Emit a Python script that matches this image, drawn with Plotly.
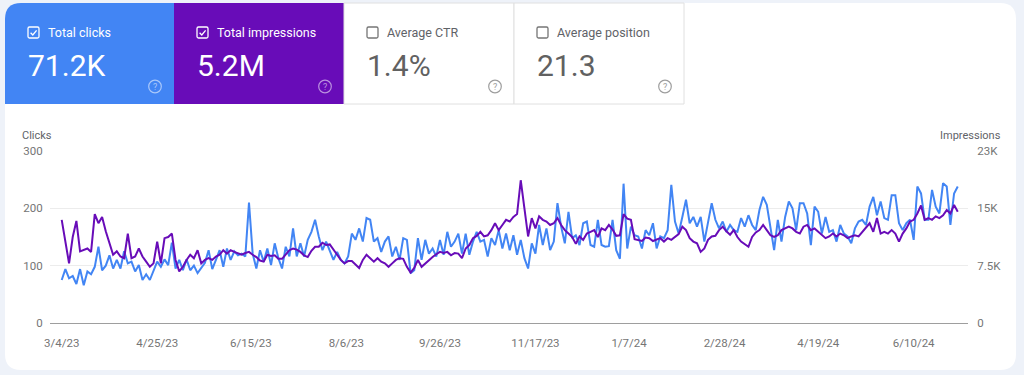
import plotly.graph_objects as go
import pandas as pd

# ---------------- data ----------------
start_date = "2023-03-04"   # first daily sample, every 2nd day afterwards
clicks = [
    75, 94, 78, 82, 68, 94, 66, 90, 85, 98,
    133, 92, 100, 118, 95, 110, 95, 125, 104, 107,
    90, 101, 75, 85, 75, 90, 107, 98, 111, 101,
    140, 95, 110, 92, 111, 92, 100, 87, 95, 105,
    127, 94, 110, 127, 98, 130, 110, 125, 118, 121,
    116, 210, 121, 95, 127, 107, 130, 101, 139, 113,
    95, 133, 116, 165, 116, 139, 116, 145, 159, 180,
    151, 127, 142, 127, 110, 124, 110, 104, 116, 156,
    145, 165, 142, 183, 180, 142, 148, 124, 142, 151,
    116, 133, 110, 148, 145, 87, 92, 148, 110, 145,
    121, 130, 116, 145, 119, 159, 133, 142, 156, 121,
    156, 119, 142, 159, 142, 145, 116, 148, 136, 162,
    130, 156, 127, 153, 119, 145, 113, 95, 139, 121,
    171, 136, 165, 127, 142, 209, 168, 139, 194, 148,
    153, 136, 174, 177, 136, 133, 180, 136, 133, 134,
    180, 127, 112, 243, 130, 168, 153, 151, 130, 162,
    153, 174, 130, 151, 148, 162, 241, 177, 156, 185,
    215, 174, 185, 168, 185, 142, 177, 209, 180, 165,
    177, 159, 171, 162, 159, 183, 168, 188, 171, 162,
    197, 220, 206, 168, 127, 180, 142, 185, 212, 200,
    162, 209, 209, 191, 136, 203, 194, 156, 185, 159,
    162, 142, 171, 156, 151, 139, 165, 177, 180, 171,
    203, 220, 188, 212, 183, 180, 223, 223, 174, 162,
    174, 180, 145, 238, 226, 180, 180, 232, 203, 191,
    244, 238, 171, 226, 238,
]
impressions = [
    13500, 10875, 7800, 11250, 13350, 9375, 9525, 9750, 9300, 14250,
    13050, 13875, 12000, 10500, 8925, 9375, 8700, 8475, 11700, 8475,
    8700, 9750, 8700, 8025, 7350, 7800, 10650, 7800, 11100, 11250,
    11700, 8250, 6750, 7350, 8250, 8925, 8475, 9525, 7800, 8250,
    8475, 8250, 8700, 8925, 9525, 9075, 9525, 9300, 9075, 8925,
    9150, 9300, 8925, 8625, 8175, 8025, 8925, 8775, 8850, 8400,
    8400, 8925, 9525, 9750, 9600, 9300, 8850, 8625, 9450, 9975,
    9975, 10500, 10200, 10275, 9525, 8925, 8250, 7800, 8100, 8100,
    7650, 7200, 8250, 8925, 8475, 8025, 8475, 8025, 7800, 7350,
    7800, 8250, 8475, 8400, 7350, 6600, 7200, 8250, 7350, 7800,
    8250, 8625, 9000, 9300, 9150, 9300, 8850, 9150, 9075, 8475,
    9750, 10200, 11100, 11400, 11925, 11325, 11475, 12150, 13050, 12150,
    12825, 13500, 13275, 13875, 14250, 18675, 15000, 11325, 13725, 12375,
    13950, 13500, 13275, 12825, 13050, 13725, 12825, 12150, 11700, 11250,
    10350, 11325, 10875, 11700, 11925, 12150, 11250, 12375, 12150, 12825,
    12225, 11400, 11475, 14250, 13650, 13500, 10950, 10800, 10725, 11175,
    11100, 10725, 10875, 11100, 10650, 11100, 10875, 11250, 11625, 12600,
    12150, 11100, 10650, 10425, 9300, 9750, 10875, 11325, 11400, 12150,
    12600, 12000, 11550, 12150, 11250, 10650, 10275, 9975, 11250, 11850,
    12150, 12825, 12150, 11475, 11250, 11475, 12150, 12375, 12600, 12375,
    11925, 11700, 12600, 12825, 12150, 12375, 11925, 11475, 11100, 11325,
    11700, 11325, 11700, 11475, 11100, 11325, 11475, 11325, 11925, 12375,
    13050, 11925, 13725, 11700, 11925, 11700, 12150, 11700, 10650, 11700,
    12375, 13275, 13500, 14325, 15375, 13500, 13725, 13500, 13950, 13725,
    14100, 14775, 14325, 15450, 14550,
]
tick_dates = ["2023-03-04", "2023-04-25", "2023-06-15", "2023-08-06", "2023-09-26",
              "2023-11-17", "2024-01-07", "2024-02-28", "2024-04-19", "2024-06-10"]
tick_labels = ["3/4/23", "4/25/23", "6/15/23", "8/6/23", "9/26/23",
               "11/17/23", "1/7/24", "2/28/24", "4/19/24", "6/10/24"]
left_ticks = [0, 100, 200, 300]
right_ticks = [0, 7500, 15000, 22500]
right_labels = ["0", "7.5K", "15K", "23K"]

card_titles = ["Total clicks", "Total impressions", "Average CTR", "Average position"]
card_values = ["71.2K", "5.2M", "1.4%", "21.3"]
card_selected = [True, True, False, False]

# ---------------- style ----------------
BLUE = "#4285f4"
PURPLE = "#680cb8"
PAGE_BG = "#eef2f9"
GRAY_TXT = "#5f6368"
TICK_TXT = "#757575"
FONT = "Roboto"

W, H = 1024, 375
L, R, T, B = 50, 56, 151, 52
PW, PH = W - L - R, H - T - B


def X(px):
    return (px - L) / PW


def Y(py):
    return (H - B - py) / PH


def rrect(x0, y0, x1, y1, tl=0, tr=0, br=0, bl=0):
    p = f"M {X(x0 + tl)},{Y(y0)} L {X(x1 - tr)},{Y(y0)} "
    p += f"Q {X(x1)},{Y(y0)} {X(x1)},{Y(y0 + tr)} " if tr else ""
    p += f"L {X(x1)},{Y(y1 - br)} "
    p += f"Q {X(x1)},{Y(y1)} {X(x1 - br)},{Y(y1)} " if br else ""
    p += f"L {X(x0 + bl)},{Y(y1)} "
    p += f"Q {X(x0)},{Y(y1)} {X(x0)},{Y(y1 - bl)} " if bl else ""
    p += f"L {X(x0)},{Y(y0 + tl)} "
    p += f"Q {X(x0)},{Y(y0)} {X(x0 + tl)},{Y(y0)} " if tl else ""
    return p + "Z"


dates = pd.date_range(start_date, periods=len(clicks), freq="2D")

fig = go.Figure()
fig.add_trace(go.Scatter(x=dates, y=impressions, yaxis="y2", mode="lines",
                         line=dict(color=PURPLE, width=2), name="Impressions",
                         hoverinfo="skip"))
fig.add_trace(go.Scatter(x=dates, y=clicks, mode="lines",
                         line=dict(color=BLUE, width=2), name="Clicks",
                         hoverinfo="skip"))

shapes = []
annotations = []

# main white card
shapes.append(dict(type="path", xref="paper", yref="paper", layer="below",
                   path=rrect(5, 3, 1016, 370, 16, 16, 16, 16),
                   fillcolor="white", line=dict(width=0)))

card_x = [5, 174, 344, 514]
card_w = [169, 170, 170, 170]
card_fill = [BLUE, PURPLE, "white", "white"]
for k in range(4):
    x0 = card_x[k]
    x1 = x0 + card_w[k]
    sel = card_selected[k]
    tl = 16 if k == 0 else 0
    shapes.append(dict(type="path", xref="paper", yref="paper", layer="below",
                       path=rrect(x0, 3, x1, 104, tl, 0, 0, 0),
                       fillcolor=card_fill[k],
                       line=dict(width=0 if sel else 1, color="#e0e0e0")))
    txt_col = "white" if sel else GRAY_TXT
    box_col = "white" if sel else "#757575"
    bx, by = x0 + 23, 27
    shapes.append(dict(type="path", xref="paper", yref="paper",
                       path=rrect(bx, by, bx + 11, by + 11, 1.5, 1.5, 1.5, 1.5),
                       fillcolor="rgba(0,0,0,0)", line=dict(width=1.3, color=box_col)))
    if sel:
        shapes.append(dict(type="path", xref="paper", yref="paper",
                           path=f"M {X(bx + 2.6)},{Y(by + 5.8)} L {X(bx + 4.8)},{Y(by + 8)} L {X(bx + 8.6)},{Y(by + 3.4)}",
                           line=dict(width=1.3, color="white")))
    annotations.append(dict(xref="paper", yref="paper", x=X(x0 + 41), y=Y(32),
                            xanchor="left", yanchor="middle", showarrow=False,
                            text=card_titles[k],
                            font=dict(family=FONT, size=12.5, color=txt_col)))
    annotations.append(dict(xref="paper", yref="paper", x=X(x0 + 21), y=Y(65),
                            xanchor="left", yanchor="middle", showarrow=False,
                            text=card_values[k],
                            font=dict(family=FONT, size=30,
                                      color="white" if sel else "#616161")))
    # help icon
    cx, cy = x1 - 19, 86.5
    icol = "rgba(255,255,255,0.55)" if sel else "#9e9e9e"
    shapes.append(dict(type="circle", xref="paper", yref="paper",
                       x0=X(cx - 6.3), x1=X(cx + 6.3), y0=Y(cy + 6.3), y1=Y(cy - 6.3),
                       line=dict(width=1.2, color=icol)))
    annotations.append(dict(xref="paper", yref="paper", x=X(cx), y=Y(cy),
                            xanchor="center", yanchor="middle", showarrow=False,
                            text="?", font=dict(family=FONT, size=9, color=icol)))

# axis titles
annotations.append(dict(xref="paper", yref="paper", x=X(20), y=Y(135),
                        xanchor="left", yanchor="middle", showarrow=False,
                        text="Clicks", font=dict(family=FONT, size=11, color=GRAY_TXT)))
annotations.append(dict(xref="paper", yref="paper", x=X(1003), y=Y(135),
                        xanchor="right", yanchor="middle", showarrow=False,
                        text="Impressions", font=dict(family=FONT, size=11, color=GRAY_TXT)))

fig.update_layout(
    width=W, height=H,
    margin=dict(l=L, r=R, t=T, b=B, pad=0),
    paper_bgcolor=PAGE_BG,
    plot_bgcolor="rgba(0,0,0,0)",
    showlegend=False,
    font=dict(family=FONT),
    shapes=shapes,
    annotations=annotations,
    xaxis=dict(range=["2023-02-25 15:00", "2024-07-09 14:00"],
               tickvals=tick_dates, ticktext=tick_labels,
               showgrid=False, zeroline=False,
               showline=True, linecolor="#9e9e9e", linewidth=1,
               ticks="outside", ticklen=9, tickcolor="rgba(0,0,0,0)",
               tickfont=dict(family=FONT, size=11.5, color=TICK_TXT)),
    yaxis=dict(range=[0, 300], tickvals=left_ticks,
               showgrid=True, gridcolor="#ececec", gridwidth=1,
               zeroline=False, showline=False,
               ticks="outside", ticklen=4, tickcolor="rgba(0,0,0,0)",
               tickfont=dict(family=FONT, size=11.5, color=TICK_TXT)),
    yaxis2=dict(range=[0, 22500], tickvals=right_ticks, ticktext=right_labels,
                overlaying="y", side="right",
                showgrid=False, zeroline=False, showline=False,
                ticks="outside", ticklen=6, tickcolor="rgba(0,0,0,0)",
                tickfont=dict(family=FONT, size=11.5, color=TICK_TXT)),
)

fig.write_html("out.html",
               config={"displayModeBar": False},
               post_script="document.body.style.margin='0';document.body.style.overflow='hidden';")
